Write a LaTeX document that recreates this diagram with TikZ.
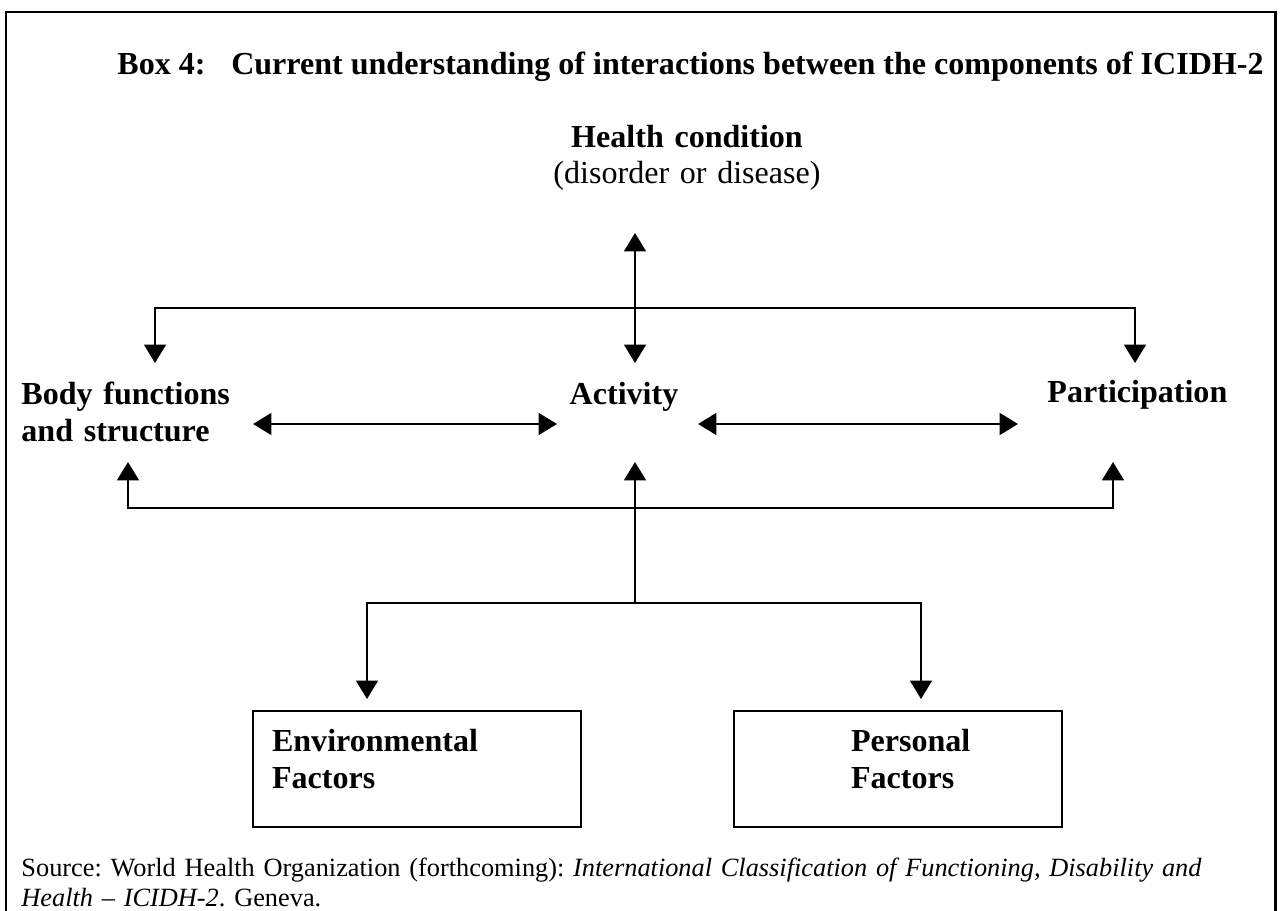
\documentclass[tikz,border=0pt]{standalone}
\usepackage{fontspec}
\setmainfont{Liberation Serif}
\usetikzlibrary{arrows.meta}
\frenchspacing

\begin{document}
\begin{tikzpicture}[x=0.4367pt, y=-0.4367pt,
	>={Triangle[length=8pt, width=9.5pt]},
	conn/.style={line width=0.9pt},
	lbl/.style={font=\fontsize{14}{16.2}\selectfont\bfseries, inner sep=0pt},
	fbox/.style={draw, line width=0.9pt, inner ysep=0pt, inner xsep=8.3pt, text width=126.6pt, text height=17.5pt, text depth=33.2pt, align=left, font=\fontsize{14}{16.3}\selectfont\bfseries},
	src/.style={font=\fontsize{11.5}{13.1}\selectfont, inner sep=0pt, text width=546pt, align=left}]
	\useasboundingbox (0,0) rectangle (1283,911);
	\draw[line width=1.3pt] (6,930) -- (6,12) -- (1275,12) -- (1275,930);

	\node[lbl, anchor=base west] (ttl) at (117,75) {Box 4:\hspace{0.8em}Current understanding of interactions between the components of ICIDH-2};
	\node[lbl, anchor=base, text width=131pt, align=center, font=\fontsize{14}{15.3}\selectfont\bfseries] (hc) at (687,148) {Health condition\\{\mdseries (disorder or disease)}};
	\node[lbl, anchor=base west, text width=94pt, align=left] (bf) at (21,404) {Body functions\\and structure};
	\node[lbl, anchor=base] (act) at (624,404) {Activity};
	\node[lbl, anchor=base west] (part) at (1047,403) {Participation};
	\node[fbox, anchor=base west] (env) at (252,751) {Environmental\\Factors};
	\node[fbox, anchor=base west] (pers) at (733,751) {\hspace*{42.8pt}Personal\\\hspace*{42.8pt}Factors};
	\node[src, anchor=base west] (src) at (21,876) {Source: World Health Organization (forthcoming): \textit{International Classification of Functioning, Disability and}\\\textit{Health -- ICIDH-2}. Geneva.};

	% arrow ends and junctions
	\coordinate (hcin) at (635,233);
	\coordinate (actin) at (635,363);
	\coordinate (jtop) at (635,308);
	\coordinate (bfin) at (155,363);
	\coordinate (partin) at (1135,363);
	\coordinate (bfr) at (253,424);
	\coordinate (actl) at (557,424);
	\coordinate (actr) at (698,424);
	\coordinate (partl) at (1018,424);
	\coordinate (jbot) at (635,508);
	\coordinate (bfout) at (128,462);
	\coordinate (actout) at (635,462);
	\coordinate (partout) at (1113,462);
	\coordinate (jenv) at (635,603);
	\coordinate (envin) at (367,699);
	\coordinate (persin) at (921,699);

	\draw[conn, <->] (hcin) -- (actin);
	\draw[conn, ->] (jtop) -| (bfin);
	\draw[conn, ->] (jtop) -| (partin);
	\draw[conn, <->] (bfr) -- (actl);
	\draw[conn, <->] (actr) -- (partl);
	\draw[conn, ->] (jbot) -| (bfout);
	\draw[conn, ->] (jbot) -| (partout);
	\draw[conn, ->] (jenv) -- (actout);
	\draw[conn, ->] (jenv) -| (envin);
	\draw[conn, ->] (jenv) -| (persin);
\end{tikzpicture}
\end{document}
